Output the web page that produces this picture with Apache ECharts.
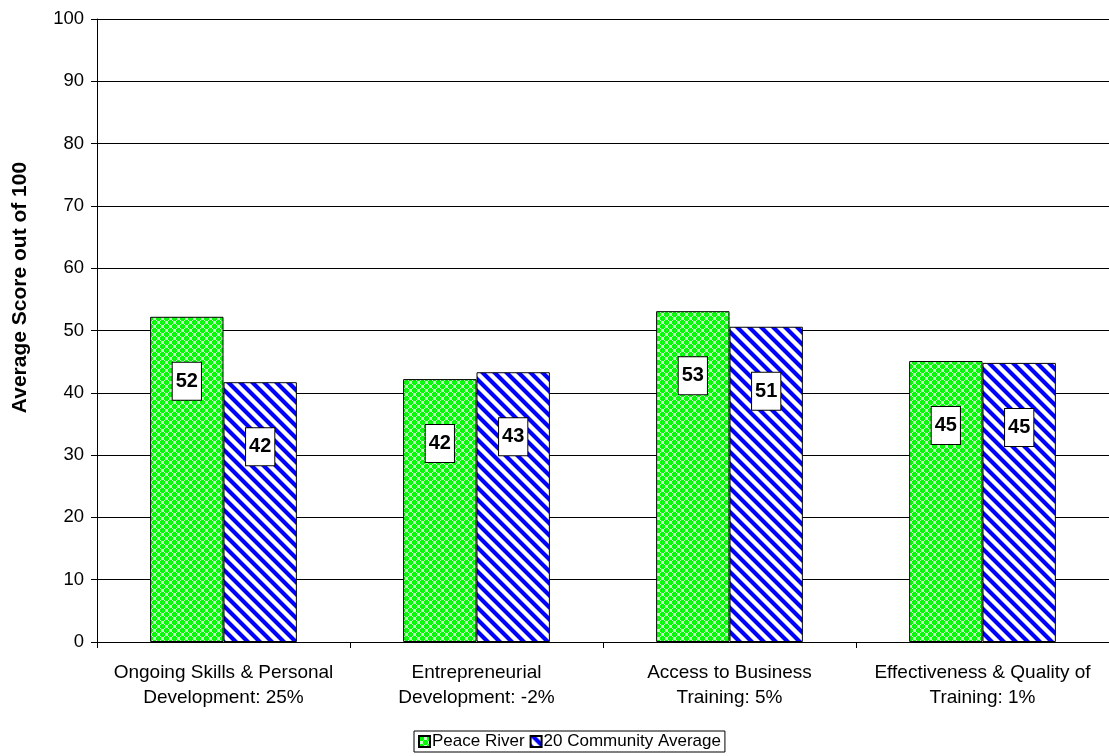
<!DOCTYPE html>
<html>
<head>
<meta charset="utf-8">
<script src="https://cdn.jsdelivr.net/npm/echarts@6/dist/echarts.min.js"></script>
<style>
  html, body { margin: 0; padding: 0; background: #fff; }
  #chart { width: 1109px; height: 756px; }
</style>
</head>
<body>
<div id="chart"></div>
<script>
// Categories (two-line labels) and scores
const categories = [
  'Ongoing Skills & Personal\nDevelopment: 25%',
  'Entrepreneurial\nDevelopment: -2%',
  'Access to Business\nTraining: 5%',
  'Effectiveness & Quality of\nTraining: 1%'
];
const peaceRiver = [52.2, 42.2, 53.1, 45.1];
const communityAvg = [41.7, 43.3, 50.6, 44.8];
const seriesNames = ['Peace River', '20 Community Average'];
const yTicks = { min: 0, max: 100, interval: 10 };

// Green lattice fill
function greenPattern() {
  const c = document.createElement('canvas');
  c.width = 8; c.height = 8;
  const ctx = c.getContext('2d');
  ctx.fillStyle = '#c6ffc6';
  ctx.fillRect(0, 0, 8, 8);
  ctx.fillStyle = '#00ff00';
  const plus = (cx, cy) => {
    ctx.fillRect(cx - 1, cy - 2, 3, 5);
    ctx.fillRect(cx - 2, cy - 1, 5, 3);
  };
  plus(2, 2); plus(6, 6);
  plus(10, 2); plus(-2, 6); plus(2, 10); plus(6, -2);
  plus(10, 10); plus(-2, -2);
  ctx.fillStyle = '#33ee33';
  ctx.fillRect(2, 2, 1, 1); ctx.fillRect(6, 6, 1, 1);
  return c;
}

// Blue diagonal stripes running top-left to bottom-right
function blueStripes() {
  const s = 12;
  const c = document.createElement('canvas');
  c.width = s; c.height = s;
  const ctx = c.getContext('2d');
  const img = ctx.createImageData(s, s);
  for (let y = 0; y < s; y++) {
    for (let x = 0; x < s; x++) {
      const d = ((x - y) % s + s) % s;
      let r, g, b;
      if (d < 5) { r = 0; g = 0; b = 255; }
      else if (d === 5 || d === 11) { r = 140; g = 140; b = 255; }
      else { r = 255; g = 255; b = 255; }
      const i = (y * s + x) * 4;
      img.data[i] = r; img.data[i + 1] = g; img.data[i + 2] = b; img.data[i + 3] = 255;
    }
  }
  ctx.putImageData(img, 0, 0);
  return c;
}

const FONT = 'Liberation Sans, Arial, sans-serif';

const valueLabel = {
  show: true,
  position: 'insideTop',
  distance: 46,
  formatter: p => Math.round(p.value),
  backgroundColor: '#fff',
  borderColor: '#000',
  borderWidth: 1,
  padding: [8, 3],
  fontFamily: FONT,
  fontWeight: 'bold',
  fontSize: 20,
  lineHeight: 21,
  color: '#000'
};

const chart = echarts.init(document.getElementById('chart'), null, { renderer: 'canvas' });
chart.setOption({
  animation: false,
  backgroundColor: '#fff',
  grid: { left: 97, right: 0, top: 19, bottom: 114, containLabel: false },
  legend: {
    bottom: 4,
    left: 414,
    data: seriesNames,
    icon: 'rect',
    itemWidth: 11,
    itemHeight: 11,
    itemGap: 5,
    padding: [2, 4],
    borderColor: '#000',
    borderWidth: 1,
    textStyle: { fontFamily: FONT, fontSize: 17, color: '#000', padding: [0, 0, 0, -3] }
  },
  xAxis: {
    type: 'category',
    data: categories,
    axisLine: { lineStyle: { color: '#000', width: 1 } },
    axisTick: { show: true, interval: 0, length: 6, lineStyle: { color: '#000' } },
    axisLabel: { interval: 0, color: '#000', fontFamily: FONT, fontSize: 19, lineHeight: 25, margin: 18 },
    splitLine: { show: false }
  },
  yAxis: {
    type: 'value',
    min: yTicks.min, max: yTicks.max, interval: yTicks.interval,
    name: 'Average Score out of 100',
    nameLocation: 'middle',
    nameGap: 66,
    nameTextStyle: { fontFamily: FONT, fontSize: 21, fontWeight: 'bold', color: '#000', padding: [0, 0, 0, 86] },
    axisLine: { show: true, lineStyle: { color: '#000', width: 1 } },
    axisTick: { show: true, length: 6, lineStyle: { color: '#000' } },
    axisLabel: { color: '#000', fontFamily: FONT, fontSize: 18.5, margin: 13 },
    splitLine: { show: true, lineStyle: { color: '#000', width: 1 } }
  },
  series: [
    {
      name: seriesNames[0],
      type: 'bar',
      data: peaceRiver,
      barWidth: '29%',
      barGap: '0%',
      itemStyle: { color: { image: greenPattern(), repeat: 'repeat' }, borderColor: '#000', borderWidth: 1 },
      label: valueLabel
    },
    {
      name: seriesNames[1],
      type: 'bar',
      data: communityAvg,
      barWidth: '29%',
      itemStyle: { color: { image: blueStripes(), repeat: 'repeat' }, borderColor: '#000', borderWidth: 1 },
      label: valueLabel
    }
  ]
});
</script>
</body>
</html>
